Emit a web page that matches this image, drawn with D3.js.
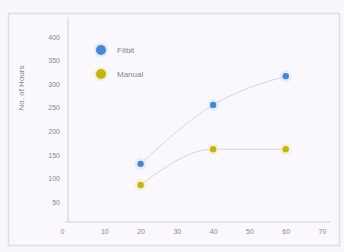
<!DOCTYPE html>
<html><head><meta charset="utf-8">
<script src="https://cdn.jsdelivr.net/npm/d3@7"></script>
<style>body{margin:0;background:#f9f6fc;}svg{display:block;font-family:"Liberation Sans",Arial,sans-serif;}</style>
</head><body><svg id="c" width="344" height="252"></svg>
<script>
const xValues = [20, 40, 60];
const fitbitValues = [131, 256, 317];
const manualValues = [86, 162, 162];
const seriesNames = ["Fitbit", "Manual"];
const xTicks = [0, 10, 20, 30, 40, 50, 60, 70];
const yTicks = [50, 100, 150, 200, 250, 300, 350, 400];
const yTitle = "No. of Hours";

const svg = d3.select("#c");
svg.append("rect").attr("x",0).attr("y",0).attr("width",344).attr("height",252).attr("fill","#f9f6fc");
svg.append("rect").attr("x",8.5).attr("y",13.5).attr("width",331).attr("height",232).attr("fill","#faf8fd").attr("stroke","#e0dde6").attr("stroke-width",1.5);

const x = d3.scaleLinear().domain([0,70]).range([68,322]);
const y = d3.scaleLinear().domain([0,400]).range([225.6,37]);
const axisY = 222;

const xAxis = svg.append("g").attr("transform",`translate(0,${axisY})`)
  .call(d3.axisBottom(x).tickValues(xTicks).tickSize(0).tickPadding(7));
xAxis.select(".domain").attr("stroke","#d3d0d9").attr("d","M65,0H330");
xAxis.selectAll("text").attr("fill","#8a8790").attr("font-size",7);
xAxis.selectAll(".tick").filter(d=>d===0).select("text").attr("dx",-6);

const yAxis = svg.append("g").attr("transform","translate(68,0)")
  .call(d3.axisLeft(y).tickValues(yTicks).tickSize(0).tickPadding(8));
yAxis.select(".domain").attr("stroke","#d3d0d9").attr("d",`M0,17V${axisY}`);
yAxis.selectAll("text").attr("fill","#8a8790").attr("font-size",7);

svg.append("text").attr("transform","translate(24,88) rotate(-90)").attr("text-anchor","middle")
  .attr("fill","#86838c").attr("font-size",8).text(yTitle);

const colors = ["#4a86cc", "#c4b21c"];
const lineColors = ["#c9d8ee", "#d8d5cc"];
const data = [fitbitValues, manualValues];
const line = d3.line().x((d,i)=>x(xValues[i])).y(d=>y(d)).curve(d3.curveMonotoneX);
data.forEach((vals,k)=>{
  svg.append("path").datum(vals).attr("d",line).attr("fill","none").attr("stroke",lineColors[k]).attr("stroke-width",1);
  svg.selectAll(null).data(vals).enter().append("circle")
    .attr("cx",(d,i)=>x(xValues[i])).attr("cy",d=>y(d)).attr("r",6).attr("fill",k?"#f4f0c8":"#dde8f6").attr("opacity",0.7);
  svg.selectAll(null).data(vals).enter().append("circle")
    .attr("cx",(d,i)=>x(xValues[i])).attr("cy",d=>y(d)).attr("r",3.2).attr("fill",colors[k]);
});

const leg = svg.append("g");
seriesNames.forEach((n,k)=>{
  const cy = 50 + k*24;
  leg.append("circle").attr("cx",101).attr("cy",cy).attr("r",7).attr("fill",k?"#f2eec6":"#dbe7f6").attr("opacity",0.8);
  leg.append("circle").attr("cx",101).attr("cy",cy).attr("r",5).attr("fill",colors[k]);
  leg.append("text").attr("x",117).attr("y",cy+3).attr("fill","#86838c").attr("font-size",8).text(n);
});
</script></body></html>
